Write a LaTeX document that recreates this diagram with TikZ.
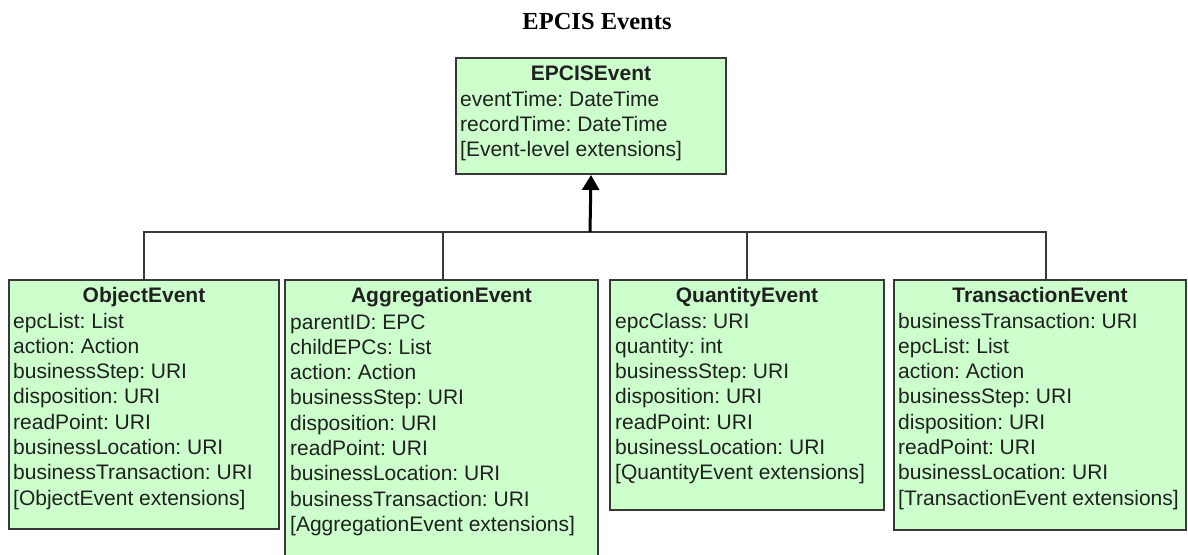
\documentclass[tikz,border=0pt]{standalone}
\usepackage{fontspec}
\setmainfont{Liberation Sans}
\newfontfamily\headingfont{Liberation Serif}
\usetikzlibrary{arrows.meta}
\definecolor{classfill}{HTML}{CCFFCC}
\definecolor{classline}{HTML}{383838}
\definecolor{classtext}{HTML}{202020}
\frenchspacing

% attribute list: first row's baseline is the box baseline
\newcommand{\attrs}[1]{\begin{tabular}[t]{@{}l@{}}#1\end{tabular}}

\begin{document}
\begin{tikzpicture}[x=1pt,y=-1pt,
  classbox/.style={rectangle, draw=classline, line width=2pt, fill=classfill,
                   inner sep=0pt, anchor=north west},
  classname/.style={inner sep=0pt, anchor=base, text=classtext,
                    font=\fontsize{21}{25.3}\selectfont\bfseries},
  attrlist/.style={inner sep=0pt, anchor=base west, text=classtext,
                   font=\fontsize{21}{25.3}\selectfont},
  link/.style={draw=classline, line width=1.5pt},
  inherit/.style={draw=black, line width=3pt, -{Triangle[length=15pt,width=17pt]}}]

\useasboundingbox (0,0) rectangle (1188,554);

% heading
\node[inner sep=0pt, anchor=base, font=\headingfont\bfseries\fontsize{24.5}{29}\selectfont]
  (title) at (597,29) {EPCIS Events};

% superclass
\node[classbox, minimum width=270pt, minimum height=116pt] (epc) at (455,57) {};
\node[classname] (epc-name) at ([yshift=-23pt]epc.north) {EPCISEvent};
\node[attrlist] (epc-attrs) at ([xshift=5pt,yshift=-49pt]epc.north west)
  {\attrs{eventTime: DateTime\\ recordTime: DateTime\\ {[}Event-level extensions{]}}};

% subclasses
\node[classbox, minimum width=270pt, minimum height=249pt] (obj) at (8,279) {};
\node[classname] (obj-name) at ([yshift=-23pt]obj.north) {ObjectEvent};
\node[attrlist] (obj-attrs) at ([xshift=5pt,yshift=-49pt]obj.north west)
  {\attrs{epcList: List\\ action: Action\\ businessStep: URI\\ disposition: URI\\
   readPoint: URI\\ businessLocation: URI\\ businessTransaction: URI\\
   {[}ObjectEvent extensions{]}}};

\node[classbox, minimum width=313pt, minimum height=300pt] (agg) at (284,279) {};
\node[classname] (agg-name) at ([yshift=-23pt]agg.north) {AggregationEvent};
\node[attrlist] (agg-attrs) at ([xshift=6pt,yshift=-50pt]agg.north west)
  {\attrs{parentID: EPC\\ childEPCs: List\\ action: Action\\ businessStep: URI\\
   disposition: URI\\ readPoint: URI\\ businessLocation: URI\\
   businessTransaction: URI\\ {[}AggregationEvent extensions{]}}};

\node[classbox, minimum width=274pt, minimum height=230pt] (qty) at (609,279) {};
\node[classname] (qty-name) at ([yshift=-23pt]qty.north) {QuantityEvent};
\node[attrlist] (qty-attrs) at ([xshift=6pt,yshift=-49pt]qty.north west)
  {\attrs{epcClass: URI\\ quantity: int\\ businessStep: URI\\ disposition: URI\\
   readPoint: URI\\ businessLocation: URI\\ {[}QuantityEvent extensions{]}}};

\node[classbox, minimum width=292pt, minimum height=250pt] (trn) at (893,279) {};
\node[classname] (trn-name) at ([yshift=-23pt]trn.north) {TransactionEvent};
\node[attrlist] (trn-attrs) at ([xshift=5pt,yshift=-49pt]trn.north west)
  {\attrs{businessTransaction: URI\\ epcList: List\\ action: Action\\
   businessStep: URI\\ disposition: URI\\ readPoint: URI\\
   businessLocation: URI\\ {[}TransactionEvent extensions{]}}};

% generalisation tree
\coordinate (bus) at (590,232);
\draw[link] (obj.north) |- (bus);
\draw[link] ([xshift=1.5pt]agg.north) |- (bus);
\draw[link] (qty.north) |- (bus);
\draw[link] ([xshift=6pt]trn.north) |- (bus);
\draw[inherit] (bus) -- (epc.south);
\end{tikzpicture}
\end{document}
